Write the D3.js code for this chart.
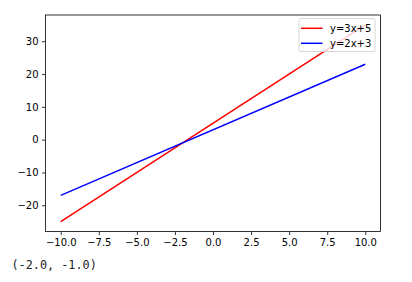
<!DOCTYPE html>
<html><head><meta charset="utf-8">
<script src="https://cdn.jsdelivr.net/npm/d3@7"></script>
<style>body{margin:0;background:#fff}</style>
</head><body>
<svg id="c" width="412" height="282"></svg>
<script>
const xValues = [-10, 10];
const series = [
  {name: "y=3x+5", values: [-25, 35], color: "red"},
  {name: "y=2x+3", values: [-17, 23], color: "blue"}
];
const xTicks = [-10, -7.5, -5, -2.5, 0, 2.5, 5, 7.5, 10];
const yTicks = [-20, -10, 0, 10, 20, 30];
const outputText = "(-2.0, -1.0)";

const svg = d3.select("#c");
const L = 45.5, R = 380.5, T = 15, B = 231.5;
const x = d3.scaleLinear().domain([-11, 11]).range([L, R]);
const y = d3.scaleLinear().domain([-28, 38]).range([B, T]);
const font = "DejaVu Sans, sans-serif";
const fmt = d => (d < 0 ? "\u2212" : "") + Math.abs(d).toFixed(1);

const line = d3.line().x(d => x(d[0])).y(d => y(d[1]));
series.forEach(s => {
  svg.append("path")
    .attr("d", line(xValues.map((xv, i) => [xv, s.values[i]])))
    .attr("fill", "none").attr("stroke", s.color).attr("stroke-width", 1.5);
});

const xa = svg.append("g").attr("transform", `translate(0,${B})`)
  .call(d3.axisBottom(x).tickValues(xTicks).tickSize(3.5).tickPadding(3.5).tickFormat(fmt));
const ya = svg.append("g").attr("transform", `translate(${L},0)`)
  .call(d3.axisLeft(y).tickValues(yTicks).tickSize(3.5).tickPadding(3.5)
    .tickFormat(d => (d < 0 ? "\u2212" : "") + Math.abs(d)));
[xa, ya].forEach(a => {
  a.select(".domain").remove();
  a.selectAll("text").attr("font-family", font).attr("font-size", 10).attr("fill", "#000");
  a.selectAll("line").attr("stroke", "#000").attr("stroke-width", 0.8);
});

svg.append("rect").attr("x", L).attr("y", T).attr("width", R - L).attr("height", B - T)
  .attr("fill", "none").attr("stroke", "#000").attr("stroke-width", 0.8);

// legend
const lg = svg.append("g");
lg.append("rect").attr("x", 299).attr("y", 18.5).attr("width", 76).attr("height", 33)
  .attr("rx", 2).attr("fill", "#fff").attr("fill-opacity", 0.8)
  .attr("stroke", "#ccc").attr("stroke-width", 0.8);
series.forEach((s, i) => {
  const yy = 28.3 + i * 15;
  lg.append("line").attr("x1", 301).attr("x2", 322.5).attr("y1", yy).attr("y2", yy)
    .attr("stroke", s.color).attr("stroke-width", 1.5);
  lg.append("text").attr("x", 330).attr("y", yy).attr("dy", "0.35em")
    .attr("font-family", font).attr("font-size", 10).attr("fill", "#000").text(s.name);
});

svg.append("text").attr("x", 11.5).attr("y", 269)
  .attr("font-family", "DejaVu Sans Mono, monospace").attr("font-size", 11.8)
  .attr("fill", "#222").text(outputText);
</script>
</body></html>
